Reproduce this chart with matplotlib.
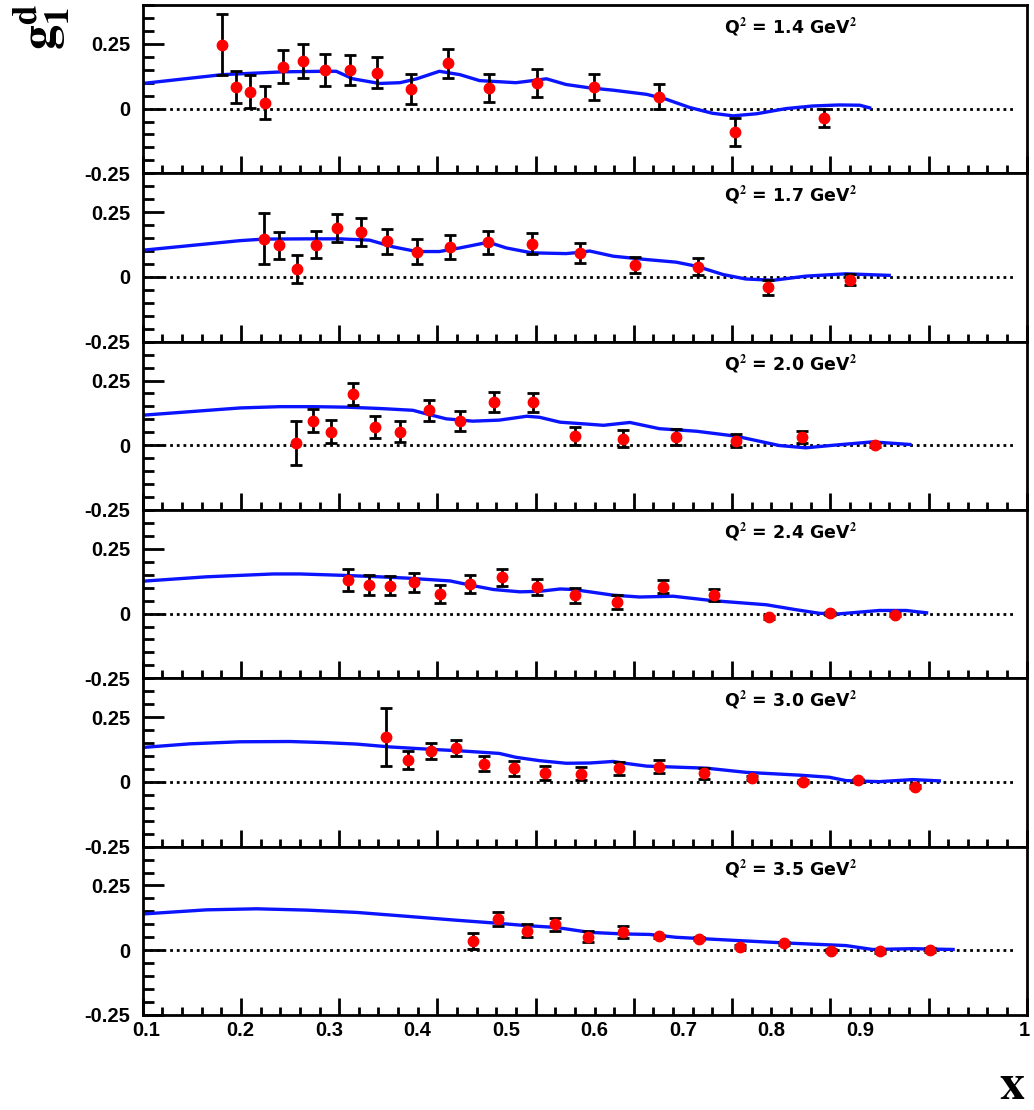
import numpy as np
import matplotlib
matplotlib.use("Agg")
import matplotlib.pyplot as plt
from matplotlib.ticker import MultipleLocator, FixedLocator, NullFormatter

plt.rcParams["font.family"] = ["Liberation Sans", "DejaVu Sans"]
plt.rcParams["font.weight"] = "bold"
plt.rcParams["mathtext.fontset"] = "stix"

q2_labels = ["1.4", "1.7", "2.0", "2.4", "3.0", "3.5"]

# x axis labels as printed (they sit off the tick marks in the original)
xlabel_text = ["0.1", "0.2", "0.3", "0.4", "0.5", "0.6", "0.7", "0.8", "0.9", "1"]
xlabel_pos = [0.104, 0.199, 0.290, 0.379, 0.470, 0.560, 0.650, 0.740, 0.830, 0.997]

# Q2 = 1.4 GeV2
x1 = [0.181, 0.195, 0.209, 0.225, 0.243, 0.263, 0.286, 0.311, 0.339, 0.373,
      0.411, 0.453, 0.501, 0.559, 0.626, 0.703, 0.794]
y1 = [0.247, 0.083, 0.065, 0.023, 0.162, 0.184, 0.149, 0.148, 0.139, 0.075,
      0.175, 0.080, 0.099, 0.084, 0.046, -0.091, -0.036]
e1 = [0.117, 0.062, 0.063, 0.064, 0.065, 0.067, 0.063, 0.058, 0.059, 0.058,
      0.057, 0.053, 0.054, 0.050, 0.049, 0.053, 0.034]
cx1 = [0.100, 0.181, 0.243, 0.285, 0.297, 0.314, 0.341, 0.362, 0.379, 0.402,
       0.423, 0.443, 0.480, 0.497, 0.511, 0.531, 0.555, 0.579, 0.613, 0.633,
       0.657, 0.680, 0.701, 0.725, 0.755, 0.782, 0.809, 0.830, 0.840]
cy1 = [0.097, 0.131, 0.142, 0.144, 0.144, 0.115, 0.097, 0.100, 0.115, 0.144,
       0.131, 0.108, 0.100, 0.108, 0.115, 0.093, 0.080, 0.071, 0.055, 0.036,
       0.004, -0.018, -0.028, -0.020, 0.000, 0.010, 0.014, 0.013, 0.003]

# Q2 = 1.7 GeV2
x2 = [0.223, 0.239, 0.257, 0.276, 0.298, 0.322, 0.349, 0.379, 0.413, 0.452,
      0.496, 0.545, 0.601, 0.665, 0.737, 0.820]
y2 = [0.148, 0.122, 0.031, 0.125, 0.189, 0.175, 0.138, 0.098, 0.116, 0.133,
      0.128, 0.093, 0.046, 0.040, -0.039, -0.010]
e2 = [0.097, 0.052, 0.053, 0.052, 0.053, 0.054, 0.048, 0.048, 0.047, 0.044,
      0.041, 0.039, 0.032, 0.032, 0.029, 0.021]
cx2 = [0.100, 0.199, 0.223, 0.267, 0.301, 0.331, 0.355, 0.379, 0.402, 0.423,
       0.452, 0.470, 0.496, 0.531, 0.545, 0.555, 0.579, 0.613, 0.643, 0.664,
       0.691, 0.714, 0.742, 0.775, 0.816, 0.860]
cy2 = [0.103, 0.140, 0.146, 0.147, 0.147, 0.142, 0.116, 0.098, 0.098, 0.112,
       0.134, 0.112, 0.093, 0.090, 0.095, 0.100, 0.080, 0.067, 0.057, 0.041,
       0.009, -0.008, -0.013, 0.003, 0.012, 0.006]

# Q2 = 2.0 GeV2
x3 = [0.256, 0.273, 0.292, 0.314, 0.337, 0.362, 0.391, 0.423, 0.458, 0.497,
      0.540, 0.589, 0.643, 0.704, 0.771, 0.845]
y3 = [0.009, 0.095, 0.053, 0.198, 0.071, 0.053, 0.135, 0.093, 0.166, 0.166,
      0.036, 0.026, 0.032, 0.018, 0.032, 0.001]
e3 = [0.086, 0.044, 0.045, 0.044, 0.043, 0.041, 0.041, 0.039, 0.039, 0.036,
      0.034, 0.031, 0.030, 0.024, 0.024, 0.008]
cx3 = [0.100, 0.199, 0.240, 0.274, 0.308, 0.341, 0.375, 0.389, 0.409, 0.436,
       0.463, 0.491, 0.504, 0.525, 0.555, 0.569, 0.596, 0.626, 0.664, 0.704,
       0.748, 0.775, 0.803, 0.843, 0.881]
cy3 = [0.116, 0.144, 0.149, 0.149, 0.147, 0.142, 0.135, 0.121, 0.102, 0.093,
       0.097, 0.112, 0.108, 0.089, 0.081, 0.077, 0.088, 0.064, 0.054, 0.035,
       -0.001, -0.010, 0.000, 0.013, 0.003]

# Q2 = 2.4 GeV2
x4 = [0.309, 0.330, 0.352, 0.376, 0.403, 0.433, 0.466, 0.501, 0.540, 0.583,
      0.630, 0.682, 0.738, 0.800, 0.866]
y4 = [0.131, 0.111, 0.108, 0.121, 0.076, 0.115, 0.140, 0.101, 0.070, 0.044,
      0.104, 0.072, -0.015, 0.001, -0.005]
e4 = [0.042, 0.039, 0.037, 0.037, 0.036, 0.034, 0.033, 0.031, 0.029, 0.026,
      0.026, 0.024, 0.007, 0.007, 0.006]
cx4 = [0.100, 0.165, 0.233, 0.260, 0.301, 0.335, 0.369, 0.413, 0.436, 0.457,
       0.484, 0.504, 0.525, 0.538, 0.555, 0.579, 0.606, 0.640, 0.680, 0.735,
       0.765, 0.789, 0.809, 0.850, 0.877, 0.898]
cy4 = [0.125, 0.142, 0.153, 0.153, 0.148, 0.143, 0.137, 0.126, 0.108, 0.093,
       0.084, 0.086, 0.095, 0.093, 0.084, 0.071, 0.064, 0.067, 0.050, 0.034,
       0.015, 0.001, -0.001, 0.012, 0.012, 0.003]

# Q2 = 3.0 GeV2
x5 = [0.348, 0.370, 0.394, 0.419, 0.447, 0.478, 0.510, 0.546, 0.585, 0.626,
      0.671, 0.720, 0.772, 0.828, 0.886]
y5 = [0.175, 0.086, 0.120, 0.131, 0.070, 0.052, 0.034, 0.032, 0.053, 0.058,
      0.034, 0.015, 0.001, 0.006, -0.018]
e5 = [0.112, 0.035, 0.032, 0.030, 0.029, 0.028, 0.026, 0.026, 0.025, 0.025,
      0.021, 0.006, 0.006, 0.006, 0.006]
cx5 = [0.100, 0.148, 0.199, 0.250, 0.284, 0.318, 0.352, 0.392, 0.423, 0.463,
       0.480, 0.504, 0.531, 0.555, 0.579, 0.589, 0.613, 0.674, 0.714, 0.769,
       0.799, 0.816, 0.850, 0.884, 0.911]
cy5 = [0.133, 0.147, 0.155, 0.156, 0.152, 0.146, 0.135, 0.126, 0.120, 0.110,
       0.095, 0.082, 0.072, 0.073, 0.079, 0.073, 0.061, 0.053, 0.037, 0.026,
       0.018, 0.005, 0.001, 0.009, 0.004]

# Q2 = 3.5 GeV2
x6 = [0.436, 0.462, 0.491, 0.520, 0.553, 0.589, 0.626, 0.666, 0.708, 0.753,
      0.801, 0.851, 0.902]
y6 = [0.034, 0.120, 0.076, 0.101, 0.052, 0.071, 0.054, 0.044, 0.014, 0.027,
      -0.001, -0.004, 0.001]
e6 = [0.031, 0.026, 0.025, 0.025, 0.022, 0.022, 0.006, 0.006, 0.006, 0.006,
      0.006, 0.006, 0.006]
cx6 = [0.100, 0.165, 0.216, 0.267, 0.318, 0.369, 0.419, 0.462, 0.491, 0.521,
       0.555, 0.589, 0.616, 0.643, 0.708, 0.755, 0.816, 0.843, 0.884, 0.925]
cy6 = [0.140, 0.156, 0.160, 0.155, 0.146, 0.131, 0.116, 0.104, 0.095, 0.088,
       0.069, 0.063, 0.061, 0.050, 0.037, 0.028, 0.018, 0.003, 0.006, 0.003]

panels = [
    (x1, y1, e1, cx1, cy1),
    (x2, y2, e2, cx2, cy2),
    (x3, y3, e3, cx3, cy3),
    (x4, y4, e4, cx4, cy4),
    (x5, y5, e5, cx5, cy5),
    (x6, y6, e6, cx6, cy6),
]

fig = plt.figure(figsize=(10.34, 11.1), dpi=100)
axes = fig.subplots(6, 1, sharex=True)
fig.subplots_adjust(left=0.138, right=0.993, top=0.9955, bottom=0.0856, hspace=0)

for ax, (px, py, pe, cx, cy), q2 in zip(axes, panels, q2_labels):
    ax.axhline(0, color="black", ls=(0, (1, 1.4)), lw=2, xmax=0.985, zorder=1)
    ax.plot(cx, cy, color="#0a14ff", lw=2.4, zorder=2)
    ax.errorbar(px, py, yerr=pe, fmt="o", color="red", ms=7.5,
                ecolor="black", elinewidth=2, capsize=4.5, capthick=2, zorder=3)
    ax.text(0.733, 0.865, f"Q$^2$ = {q2} GeV$^2$", transform=ax.transAxes,
            ha="center", va="center", fontsize=12.5, fontweight="bold",
            family="DejaVu Sans")

    ax.set_xlim(0.1, 1.0)
    ax.set_ylim(-0.25, 0.4)
    ax.yaxis.set_major_locator(FixedLocator([-0.25, 0, 0.25]))
    ax.yaxis.set_minor_locator(MultipleLocator(0.05))
    ax.xaxis.set_major_locator(MultipleLocator(0.1))
    ax.xaxis.set_minor_locator(MultipleLocator(0.02))
    ax.xaxis.set_major_formatter(NullFormatter())
    ax.set_yticklabels(["-0.25", "0", "0.25"])
    ax.tick_params(axis="y", which="major", direction="in", length=15, width=2,
                   labelsize=14.5, pad=9)
    ax.tick_params(axis="y", which="minor", direction="in", length=8, width=2)
    ax.tick_params(axis="x", which="major", direction="in", length=12, width=2)
    ax.tick_params(axis="x", which="minor", direction="in", length=6, width=2)
    for s in ax.spines.values():
        s.set_linewidth(2)
    for lab in ax.get_yticklabels():
        lab.set_fontweight("bold")

bottom = axes[-1]
for pos, txt in zip(xlabel_pos, xlabel_text):
    bottom.text(pos, -0.275, txt, ha="center", va="top", fontsize=14.5,
                fontweight="bold", clip_on=False)

fig.text(0.040, 0.997, r"$\mathbf{g_1^d}$", rotation=90, ha="center", va="top",
         fontsize=36)
fig.text(0.979, 0.022, r"$\mathbf{x}$", ha="center", va="center", fontsize=36)

fig.savefig("out.png", dpi=100)
